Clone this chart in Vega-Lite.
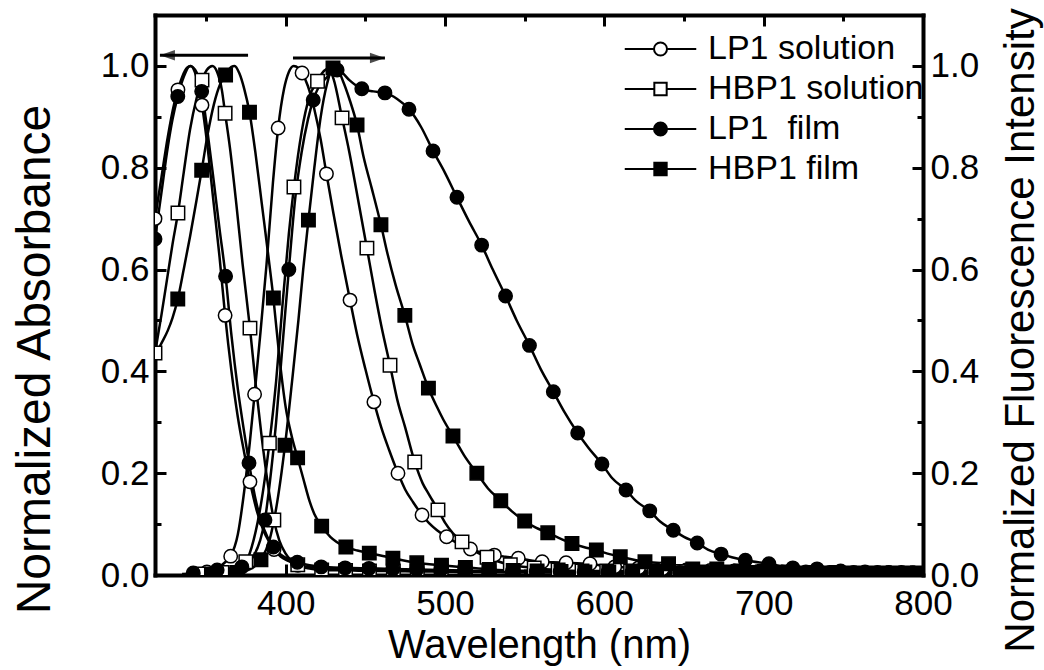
{
  "$schema": "https://vega.github.io/schema/vega-lite/v6.json",
  "width": 768,
  "height": 560,
  "autosize": {"type": "none"},
  "padding": {"left": 155, "top": 15, "right": 121, "bottom": 95},
  "background": "white",
  "config": {
    "view": {"stroke": null},
    "font": "Liberation Sans",
    "axis": {
      "grid": false,
      "domainColor": "black",
      "domainWidth": 4,
      "domainCap": "square",
      "tickColor": "black",
      "tickWidth": 3,
      "labelColor": "black",
      "labelFont": "Liberation Sans",
      "labelFontSize": 35,
      "labelOverlap": false,
      "labelFlush": false,
      "titleColor": "black",
      "titleFontWeight": "normal"
    },
    "legend": {
      "orient": "none",
      "legendX": 488.5,
      "legendY": 17,
      "padding": 0,
      "labelFont": "Liberation Sans",
      "labelFontSize": 34,
      "labelLimit": 400,
      "labelColor": "black",
      "labelOffset": 30.5,
      "rowPadding": 6,
      "symbolSize": 169,
      "symbolStrokeWidth": 2,
      "symbolStrokeColor": "black",
      "symbolOpacity": 1
    }
  },
  "datasets": {
    "keys": [
      {"s": "LP1 solution"}, {"s": "HBP1 solution"}, {"s": "LP1\u00a0 film"}, {"s": "HBP1 film"}
    ],
    "arrows": [
      {"dir": "L", "x": 376.4, "x2": 321.1, "y": 1.021},
      {"dir": "R", "x": 404.6, "x2": 462.3, "y": 1.0155}
    ],
    "spectra": [
      {"s": "LP1 solution", "b": "A", "x": 318, "y": 0.700, "m": 1},
      {"s": "LP1 solution", "b": "A", "x": 322, "y": 0.780},
      {"s": "LP1 solution", "b": "A", "x": 326, "y": 0.860},
      {"s": "LP1 solution", "b": "A", "x": 330, "y": 0.925},
      {"s": "LP1 solution", "b": "A", "x": 332.4, "y": 0.953, "m": 1},
      {"s": "LP1 solution", "b": "A", "x": 335, "y": 0.978},
      {"s": "LP1 solution", "b": "A", "x": 338, "y": 0.996},
      {"s": "LP1 solution", "b": "A", "x": 340.5, "y": 1.0},
      {"s": "LP1 solution", "b": "A", "x": 343, "y": 0.988},
      {"s": "LP1 solution", "b": "A", "x": 347.5, "y": 0.923, "m": 1},
      {"s": "LP1 solution", "b": "A", "x": 351, "y": 0.840},
      {"s": "LP1 solution", "b": "A", "x": 355, "y": 0.725},
      {"s": "LP1 solution", "b": "A", "x": 358.5, "y": 0.625},
      {"s": "LP1 solution", "b": "A", "x": 362, "y": 0.510, "m": 1},
      {"s": "LP1 solution", "b": "A", "x": 366, "y": 0.400},
      {"s": "LP1 solution", "b": "A", "x": 370, "y": 0.310},
      {"s": "LP1 solution", "b": "A", "x": 374, "y": 0.240},
      {"s": "LP1 solution", "b": "A", "x": 377.6, "y": 0.183, "m": 1},
      {"s": "LP1 solution", "b": "A", "x": 382, "y": 0.125},
      {"s": "LP1 solution", "b": "A", "x": 386, "y": 0.088},
      {"s": "LP1 solution", "b": "A", "x": 389.5, "y": 0.066},
      {"s": "LP1 solution", "b": "A", "x": 392.7, "y": 0.050, "m": 1},
      {"s": "LP1 solution", "b": "A", "x": 397, "y": 0.036},
      {"s": "LP1 solution", "b": "A", "x": 402, "y": 0.027},
      {"s": "LP1 solution", "b": "A", "x": 407.7, "y": 0.019, "m": 1},
      {"s": "LP1 solution", "b": "A", "x": 415, "y": 0.015},
      {"s": "LP1 solution", "b": "A", "x": 422.8, "y": 0.013, "m": 1},
      {"s": "LP1 solution", "b": "A", "x": 437.8, "y": 0.012, "m": 1},
      {"s": "LP1 solution", "b": "A", "x": 452.8, "y": 0.011, "m": 1},
      {"s": "LP1 solution", "b": "A", "x": 467.8, "y": 0.010, "m": 1},
      {"s": "LP1 solution", "b": "A", "x": 482.8, "y": 0.009, "m": 1},
      {"s": "LP1 solution", "b": "A", "x": 497.8, "y": 0.008, "m": 1},
      {"s": "LP1 solution", "b": "A", "x": 512.8, "y": 0.008, "m": 1},
      {"s": "LP1 solution", "b": "A", "x": 527.8, "y": 0.007, "m": 1},
      {"s": "LP1 solution", "b": "A", "x": 542.8, "y": 0.007, "m": 1},
      {"s": "LP1 solution", "b": "A", "x": 557.8, "y": 0.006, "m": 1},
      {"s": "LP1 solution", "b": "A", "x": 572.8, "y": 0.006, "m": 1},
      {"s": "LP1 solution", "b": "A", "x": 587.8, "y": 0.005, "m": 1},
      {"s": "LP1 solution", "b": "A", "x": 602.8, "y": 0.005, "m": 1},
      {"s": "LP1 solution", "b": "A", "x": 617.8, "y": 0.005, "m": 1},
      {"s": "LP1 solution", "b": "A", "x": 632.8, "y": 0.004, "m": 1},
      {"s": "LP1 solution", "b": "A", "x": 647.8, "y": 0.004, "m": 1},
      {"s": "LP1 solution", "b": "A", "x": 662.8, "y": 0.004, "m": 1},
      {"s": "LP1 solution", "b": "A", "x": 677.8, "y": 0.004, "m": 1},
      {"s": "LP1 solution", "b": "A", "x": 692.8, "y": 0.003, "m": 1},
      {"s": "LP1 solution", "b": "A", "x": 707.8, "y": 0.003, "m": 1},
      {"s": "LP1 solution", "b": "A", "x": 722.8, "y": 0.003, "m": 1},
      {"s": "LP1 solution", "b": "A", "x": 737.8, "y": 0.003, "m": 1},
      {"s": "LP1 solution", "b": "A", "x": 752.8, "y": 0.003, "m": 1},
      {"s": "LP1 solution", "b": "A", "x": 767.8, "y": 0.003, "m": 1},
      {"s": "LP1 solution", "b": "A", "x": 782.8, "y": 0.003, "m": 1},
      {"s": "LP1 solution", "b": "A", "x": 797.8, "y": 0.003, "m": 1},

      {"s": "LP1 solution", "b": "E", "x": 335, "y": 0.002},
      {"s": "LP1 solution", "b": "E", "x": 350.6, "y": 0.006, "m": 1},
      {"s": "LP1 solution", "b": "E", "x": 358, "y": 0.015},
      {"s": "LP1 solution", "b": "E", "x": 362, "y": 0.025},
      {"s": "LP1 solution", "b": "E", "x": 365.5, "y": 0.037, "m": 1},
      {"s": "LP1 solution", "b": "E", "x": 370, "y": 0.080},
      {"s": "LP1 solution", "b": "E", "x": 374, "y": 0.165},
      {"s": "LP1 solution", "b": "E", "x": 377.5, "y": 0.260},
      {"s": "LP1 solution", "b": "E", "x": 380.5, "y": 0.355, "m": 1},
      {"s": "LP1 solution", "b": "E", "x": 384, "y": 0.470},
      {"s": "LP1 solution", "b": "E", "x": 388, "y": 0.610},
      {"s": "LP1 solution", "b": "E", "x": 392, "y": 0.770},
      {"s": "LP1 solution", "b": "E", "x": 395.3, "y": 0.878, "m": 1},
      {"s": "LP1 solution", "b": "E", "x": 399, "y": 0.955},
      {"s": "LP1 solution", "b": "E", "x": 402, "y": 0.988},
      {"s": "LP1 solution", "b": "E", "x": 405, "y": 1.0},
      {"s": "LP1 solution", "b": "E", "x": 408, "y": 0.996},
      {"s": "LP1 solution", "b": "E", "x": 410.3, "y": 0.986, "m": 1},
      {"s": "LP1 solution", "b": "E", "x": 414, "y": 0.960},
      {"s": "LP1 solution", "b": "E", "x": 418, "y": 0.915},
      {"s": "LP1 solution", "b": "E", "x": 422, "y": 0.855},
      {"s": "LP1 solution", "b": "E", "x": 425.6, "y": 0.788, "m": 1},
      {"s": "LP1 solution", "b": "E", "x": 430, "y": 0.710},
      {"s": "LP1 solution", "b": "E", "x": 435, "y": 0.625},
      {"s": "LP1 solution", "b": "E", "x": 440.4, "y": 0.540, "m": 1},
      {"s": "LP1 solution", "b": "E", "x": 445, "y": 0.470},
      {"s": "LP1 solution", "b": "E", "x": 450, "y": 0.405},
      {"s": "LP1 solution", "b": "E", "x": 455.4, "y": 0.340, "m": 1},
      {"s": "LP1 solution", "b": "E", "x": 460, "y": 0.290},
      {"s": "LP1 solution", "b": "E", "x": 465, "y": 0.245},
      {"s": "LP1 solution", "b": "E", "x": 470.5, "y": 0.200, "m": 1},
      {"s": "LP1 solution", "b": "E", "x": 475, "y": 0.168},
      {"s": "LP1 solution", "b": "E", "x": 480, "y": 0.143},
      {"s": "LP1 solution", "b": "E", "x": 485.6, "y": 0.118, "m": 1},
      {"s": "LP1 solution", "b": "E", "x": 490, "y": 0.102},
      {"s": "LP1 solution", "b": "E", "x": 495, "y": 0.088},
      {"s": "LP1 solution", "b": "E", "x": 501, "y": 0.075, "m": 1},
      {"s": "LP1 solution", "b": "E", "x": 508, "y": 0.062},
      {"s": "LP1 solution", "b": "E", "x": 516, "y": 0.051, "m": 1},
      {"s": "LP1 solution", "b": "E", "x": 523, "y": 0.044},
      {"s": "LP1 solution", "b": "E", "x": 531, "y": 0.039, "m": 1},
      {"s": "LP1 solution", "b": "E", "x": 538, "y": 0.036},
      {"s": "LP1 solution", "b": "E", "x": 546, "y": 0.033, "m": 1},
      {"s": "LP1 solution", "b": "E", "x": 553, "y": 0.029},
      {"s": "LP1 solution", "b": "E", "x": 561, "y": 0.026, "m": 1},
      {"s": "LP1 solution", "b": "E", "x": 568, "y": 0.025},
      {"s": "LP1 solution", "b": "E", "x": 576, "y": 0.024, "m": 1},
      {"s": "LP1 solution", "b": "E", "x": 583, "y": 0.023},
      {"s": "LP1 solution", "b": "E", "x": 591, "y": 0.022, "m": 1},
      {"s": "LP1 solution", "b": "E", "x": 598, "y": 0.019},
      {"s": "LP1 solution", "b": "E", "x": 606.5, "y": 0.016, "m": 1},
      {"s": "LP1 solution", "b": "E", "x": 621.5, "y": 0.014, "m": 1},
      {"s": "LP1 solution", "b": "E", "x": 636.5, "y": 0.012, "m": 1},
      {"s": "LP1 solution", "b": "E", "x": 651.5, "y": 0.010, "m": 1},
      {"s": "LP1 solution", "b": "E", "x": 666.5, "y": 0.009, "m": 1},
      {"s": "LP1 solution", "b": "E", "x": 681.5, "y": 0.008, "m": 1},
      {"s": "LP1 solution", "b": "E", "x": 696.5, "y": 0.007, "m": 1},
      {"s": "LP1 solution", "b": "E", "x": 711.5, "y": 0.006, "m": 1},
      {"s": "LP1 solution", "b": "E", "x": 726.5, "y": 0.006, "m": 1},
      {"s": "LP1 solution", "b": "E", "x": 741.5, "y": 0.005, "m": 1},
      {"s": "LP1 solution", "b": "E", "x": 756.5, "y": 0.005, "m": 1},
      {"s": "LP1 solution", "b": "E", "x": 771.5, "y": 0.005, "m": 1},
      {"s": "LP1 solution", "b": "E", "x": 786.5, "y": 0.005, "m": 1},
      {"s": "LP1 solution", "b": "E", "x": 800, "y": 0.005},

      {"s": "HBP1 solution", "b": "A", "x": 318, "y": 0.436, "m": 1},
      {"s": "HBP1 solution", "b": "A", "x": 322, "y": 0.510},
      {"s": "HBP1 solution", "b": "A", "x": 326, "y": 0.590},
      {"s": "HBP1 solution", "b": "A", "x": 329, "y": 0.650},
      {"s": "HBP1 solution", "b": "A", "x": 332.4, "y": 0.711, "m": 1},
      {"s": "HBP1 solution", "b": "A", "x": 336, "y": 0.790},
      {"s": "HBP1 solution", "b": "A", "x": 340, "y": 0.875},
      {"s": "HBP1 solution", "b": "A", "x": 344, "y": 0.935},
      {"s": "HBP1 solution", "b": "A", "x": 347.5, "y": 0.972, "m": 1},
      {"s": "HBP1 solution", "b": "A", "x": 350.5, "y": 0.992},
      {"s": "HBP1 solution", "b": "A", "x": 354, "y": 1.0},
      {"s": "HBP1 solution", "b": "A", "x": 357, "y": 0.988},
      {"s": "HBP1 solution", "b": "A", "x": 360, "y": 0.952},
      {"s": "HBP1 solution", "b": "A", "x": 362, "y": 0.907, "m": 1},
      {"s": "HBP1 solution", "b": "A", "x": 365, "y": 0.840},
      {"s": "HBP1 solution", "b": "A", "x": 369, "y": 0.730},
      {"s": "HBP1 solution", "b": "A", "x": 373, "y": 0.610},
      {"s": "HBP1 solution", "b": "A", "x": 377.6, "y": 0.485, "m": 1},
      {"s": "HBP1 solution", "b": "A", "x": 381, "y": 0.380},
      {"s": "HBP1 solution", "b": "A", "x": 385, "y": 0.270},
      {"s": "HBP1 solution", "b": "A", "x": 389, "y": 0.175},
      {"s": "HBP1 solution", "b": "A", "x": 392.6, "y": 0.108, "m": 1},
      {"s": "HBP1 solution", "b": "A", "x": 396, "y": 0.068},
      {"s": "HBP1 solution", "b": "A", "x": 400, "y": 0.042},
      {"s": "HBP1 solution", "b": "A", "x": 407.6, "y": 0.020, "m": 1},
      {"s": "HBP1 solution", "b": "A", "x": 414, "y": 0.013},
      {"s": "HBP1 solution", "b": "A", "x": 422.6, "y": 0.010, "m": 1},
      {"s": "HBP1 solution", "b": "A", "x": 437.6, "y": 0.009, "m": 1},
      {"s": "HBP1 solution", "b": "A", "x": 452.6, "y": 0.008, "m": 1},
      {"s": "HBP1 solution", "b": "A", "x": 467.6, "y": 0.008, "m": 1},
      {"s": "HBP1 solution", "b": "A", "x": 482.6, "y": 0.007, "m": 1},
      {"s": "HBP1 solution", "b": "A", "x": 497.6, "y": 0.007, "m": 1},
      {"s": "HBP1 solution", "b": "A", "x": 512.6, "y": 0.006, "m": 1},
      {"s": "HBP1 solution", "b": "A", "x": 527.6, "y": 0.006, "m": 1},
      {"s": "HBP1 solution", "b": "A", "x": 542.6, "y": 0.005, "m": 1},
      {"s": "HBP1 solution", "b": "A", "x": 557.6, "y": 0.005, "m": 1},
      {"s": "HBP1 solution", "b": "A", "x": 572.6, "y": 0.005, "m": 1},
      {"s": "HBP1 solution", "b": "A", "x": 587.6, "y": 0.004, "m": 1},
      {"s": "HBP1 solution", "b": "A", "x": 602.6, "y": 0.004, "m": 1},
      {"s": "HBP1 solution", "b": "A", "x": 617.6, "y": 0.004, "m": 1},
      {"s": "HBP1 solution", "b": "A", "x": 632.6, "y": 0.004, "m": 1},
      {"s": "HBP1 solution", "b": "A", "x": 647.6, "y": 0.003, "m": 1},
      {"s": "HBP1 solution", "b": "A", "x": 662.6, "y": 0.003, "m": 1},
      {"s": "HBP1 solution", "b": "A", "x": 677.6, "y": 0.003, "m": 1},
      {"s": "HBP1 solution", "b": "A", "x": 692.6, "y": 0.003, "m": 1},
      {"s": "HBP1 solution", "b": "A", "x": 707.6, "y": 0.003, "m": 1},
      {"s": "HBP1 solution", "b": "A", "x": 722.6, "y": 0.002, "m": 1},
      {"s": "HBP1 solution", "b": "A", "x": 737.6, "y": 0.002, "m": 1},
      {"s": "HBP1 solution", "b": "A", "x": 752.6, "y": 0.002, "m": 1},
      {"s": "HBP1 solution", "b": "A", "x": 767.6, "y": 0.002, "m": 1},
      {"s": "HBP1 solution", "b": "A", "x": 782.6, "y": 0.002, "m": 1},
      {"s": "HBP1 solution", "b": "A", "x": 797.6, "y": 0.002, "m": 1},

      {"s": "HBP1 solution", "b": "E", "x": 345, "y": 0.002, "m": 1},
      {"s": "HBP1 solution", "b": "E", "x": 360, "y": 0.005, "m": 1},
      {"s": "HBP1 solution", "b": "E", "x": 368, "y": 0.012},
      {"s": "HBP1 solution", "b": "E", "x": 375, "y": 0.026, "m": 1},
      {"s": "HBP1 solution", "b": "E", "x": 380, "y": 0.070},
      {"s": "HBP1 solution", "b": "E", "x": 384, "y": 0.130},
      {"s": "HBP1 solution", "b": "E", "x": 389.8, "y": 0.259, "m": 1},
      {"s": "HBP1 solution", "b": "E", "x": 394, "y": 0.380},
      {"s": "HBP1 solution", "b": "E", "x": 398, "y": 0.530},
      {"s": "HBP1 solution", "b": "E", "x": 402, "y": 0.670},
      {"s": "HBP1 solution", "b": "E", "x": 405.2, "y": 0.762, "m": 1},
      {"s": "HBP1 solution", "b": "E", "x": 410, "y": 0.870},
      {"s": "HBP1 solution", "b": "E", "x": 415, "y": 0.940},
      {"s": "HBP1 solution", "b": "E", "x": 420, "y": 0.970, "m": 1},
      {"s": "HBP1 solution", "b": "E", "x": 424, "y": 0.990},
      {"s": "HBP1 solution", "b": "E", "x": 427, "y": 0.995},
      {"s": "HBP1 solution", "b": "E", "x": 430, "y": 0.975},
      {"s": "HBP1 solution", "b": "E", "x": 435.4, "y": 0.898, "m": 1},
      {"s": "HBP1 solution", "b": "E", "x": 440, "y": 0.830},
      {"s": "HBP1 solution", "b": "E", "x": 445, "y": 0.745},
      {"s": "HBP1 solution", "b": "E", "x": 451, "y": 0.642, "m": 1},
      {"s": "HBP1 solution", "b": "E", "x": 456, "y": 0.555},
      {"s": "HBP1 solution", "b": "E", "x": 460, "y": 0.490},
      {"s": "HBP1 solution", "b": "E", "x": 465.5, "y": 0.412, "m": 1},
      {"s": "HBP1 solution", "b": "E", "x": 470, "y": 0.345},
      {"s": "HBP1 solution", "b": "E", "x": 475, "y": 0.290},
      {"s": "HBP1 solution", "b": "E", "x": 481, "y": 0.222, "m": 1},
      {"s": "HBP1 solution", "b": "E", "x": 486, "y": 0.180},
      {"s": "HBP1 solution", "b": "E", "x": 490, "y": 0.158},
      {"s": "HBP1 solution", "b": "E", "x": 495.6, "y": 0.128, "m": 1},
      {"s": "HBP1 solution", "b": "E", "x": 500, "y": 0.103},
      {"s": "HBP1 solution", "b": "E", "x": 505, "y": 0.082},
      {"s": "HBP1 solution", "b": "E", "x": 510.7, "y": 0.065, "m": 1},
      {"s": "HBP1 solution", "b": "E", "x": 518, "y": 0.048},
      {"s": "HBP1 solution", "b": "E", "x": 526.4, "y": 0.035, "m": 1},
      {"s": "HBP1 solution", "b": "E", "x": 533, "y": 0.027},
      {"s": "HBP1 solution", "b": "E", "x": 541, "y": 0.020, "m": 1},
      {"s": "HBP1 solution", "b": "E", "x": 556, "y": 0.014, "m": 1},
      {"s": "HBP1 solution", "b": "E", "x": 571, "y": 0.010, "m": 1},
      {"s": "HBP1 solution", "b": "E", "x": 586, "y": 0.008, "m": 1},
      {"s": "HBP1 solution", "b": "E", "x": 601.5, "y": 0.008, "m": 1},
      {"s": "HBP1 solution", "b": "E", "x": 616.5, "y": 0.008, "m": 1},
      {"s": "HBP1 solution", "b": "E", "x": 631.5, "y": 0.008, "m": 1},
      {"s": "HBP1 solution", "b": "E", "x": 646.5, "y": 0.007, "m": 1},
      {"s": "HBP1 solution", "b": "E", "x": 661.5, "y": 0.006, "m": 1},
      {"s": "HBP1 solution", "b": "E", "x": 676.5, "y": 0.006, "m": 1},
      {"s": "HBP1 solution", "b": "E", "x": 691.5, "y": 0.005, "m": 1},
      {"s": "HBP1 solution", "b": "E", "x": 706.5, "y": 0.005, "m": 1},
      {"s": "HBP1 solution", "b": "E", "x": 721.5, "y": 0.004, "m": 1},
      {"s": "HBP1 solution", "b": "E", "x": 736.5, "y": 0.004, "m": 1},
      {"s": "HBP1 solution", "b": "E", "x": 751.5, "y": 0.004, "m": 1},
      {"s": "HBP1 solution", "b": "E", "x": 766.5, "y": 0.004, "m": 1},
      {"s": "HBP1 solution", "b": "E", "x": 781.5, "y": 0.004, "m": 1},
      {"s": "HBP1 solution", "b": "E", "x": 796.5, "y": 0.004, "m": 1},

      {"s": "LP1\u00a0 film", "b": "A", "x": 318, "y": 0.660, "m": 1},
      {"s": "LP1\u00a0 film", "b": "A", "x": 322, "y": 0.750},
      {"s": "LP1\u00a0 film", "b": "A", "x": 326, "y": 0.840},
      {"s": "LP1\u00a0 film", "b": "A", "x": 329, "y": 0.895},
      {"s": "LP1\u00a0 film", "b": "A", "x": 332.3, "y": 0.940, "m": 1},
      {"s": "LP1\u00a0 film", "b": "A", "x": 336, "y": 0.978},
      {"s": "LP1\u00a0 film", "b": "A", "x": 340, "y": 1.0},
      {"s": "LP1\u00a0 film", "b": "A", "x": 344, "y": 0.988},
      {"s": "LP1\u00a0 film", "b": "A", "x": 347.3, "y": 0.950, "m": 1},
      {"s": "LP1\u00a0 film", "b": "A", "x": 351, "y": 0.870},
      {"s": "LP1\u00a0 film", "b": "A", "x": 355, "y": 0.770},
      {"s": "LP1\u00a0 film", "b": "A", "x": 358.5, "y": 0.680},
      {"s": "LP1\u00a0 film", "b": "A", "x": 362.3, "y": 0.587, "m": 1},
      {"s": "LP1\u00a0 film", "b": "A", "x": 366, "y": 0.470},
      {"s": "LP1\u00a0 film", "b": "A", "x": 370, "y": 0.365},
      {"s": "LP1\u00a0 film", "b": "A", "x": 373.5, "y": 0.290},
      {"s": "LP1\u00a0 film", "b": "A", "x": 377, "y": 0.220, "m": 1},
      {"s": "LP1\u00a0 film", "b": "A", "x": 381, "y": 0.150},
      {"s": "LP1\u00a0 film", "b": "A", "x": 385, "y": 0.103},
      {"s": "LP1\u00a0 film", "b": "A", "x": 388.5, "y": 0.075},
      {"s": "LP1\u00a0 film", "b": "A", "x": 392.3, "y": 0.055, "m": 1},
      {"s": "LP1\u00a0 film", "b": "A", "x": 397, "y": 0.040},
      {"s": "LP1\u00a0 film", "b": "A", "x": 402, "y": 0.031},
      {"s": "LP1\u00a0 film", "b": "A", "x": 407.3, "y": 0.025, "m": 1},
      {"s": "LP1\u00a0 film", "b": "A", "x": 415, "y": 0.019},
      {"s": "LP1\u00a0 film", "b": "A", "x": 422.3, "y": 0.016, "m": 1},
      {"s": "LP1\u00a0 film", "b": "A", "x": 437.3, "y": 0.014, "m": 1},
      {"s": "LP1\u00a0 film", "b": "A", "x": 452.3, "y": 0.013, "m": 1},
      {"s": "LP1\u00a0 film", "b": "A", "x": 467.3, "y": 0.012, "m": 1},
      {"s": "LP1\u00a0 film", "b": "A", "x": 482.3, "y": 0.011, "m": 1},
      {"s": "LP1\u00a0 film", "b": "A", "x": 497.3, "y": 0.010, "m": 1},
      {"s": "LP1\u00a0 film", "b": "A", "x": 512.3, "y": 0.009, "m": 1},
      {"s": "LP1\u00a0 film", "b": "A", "x": 527.3, "y": 0.008, "m": 1},
      {"s": "LP1\u00a0 film", "b": "A", "x": 542.3, "y": 0.008, "m": 1},
      {"s": "LP1\u00a0 film", "b": "A", "x": 557.3, "y": 0.007, "m": 1},
      {"s": "LP1\u00a0 film", "b": "A", "x": 572.3, "y": 0.007, "m": 1},
      {"s": "LP1\u00a0 film", "b": "A", "x": 587.3, "y": 0.006, "m": 1},
      {"s": "LP1\u00a0 film", "b": "A", "x": 602.3, "y": 0.006, "m": 1},
      {"s": "LP1\u00a0 film", "b": "A", "x": 617.3, "y": 0.005, "m": 1},
      {"s": "LP1\u00a0 film", "b": "A", "x": 632.3, "y": 0.005, "m": 1},
      {"s": "LP1\u00a0 film", "b": "A", "x": 647.3, "y": 0.005, "m": 1},
      {"s": "LP1\u00a0 film", "b": "A", "x": 662.3, "y": 0.004, "m": 1},
      {"s": "LP1\u00a0 film", "b": "A", "x": 677.3, "y": 0.004, "m": 1},
      {"s": "LP1\u00a0 film", "b": "A", "x": 692.3, "y": 0.004, "m": 1},
      {"s": "LP1\u00a0 film", "b": "A", "x": 707.3, "y": 0.004, "m": 1},
      {"s": "LP1\u00a0 film", "b": "A", "x": 722.3, "y": 0.003, "m": 1},
      {"s": "LP1\u00a0 film", "b": "A", "x": 737.3, "y": 0.003, "m": 1},
      {"s": "LP1\u00a0 film", "b": "A", "x": 752.3, "y": 0.003, "m": 1},
      {"s": "LP1\u00a0 film", "b": "A", "x": 767.3, "y": 0.003, "m": 1},
      {"s": "LP1\u00a0 film", "b": "A", "x": 782.3, "y": 0.003, "m": 1},
      {"s": "LP1\u00a0 film", "b": "A", "x": 797.3, "y": 0.003, "m": 1},

      {"s": "LP1\u00a0 film", "b": "E", "x": 342, "y": 0.004, "m": 1},
      {"s": "LP1\u00a0 film", "b": "E", "x": 357, "y": 0.010, "m": 1},
      {"s": "LP1\u00a0 film", "b": "E", "x": 365, "y": 0.013},
      {"s": "LP1\u00a0 film", "b": "E", "x": 372.5, "y": 0.016, "m": 1},
      {"s": "LP1\u00a0 film", "b": "E", "x": 377, "y": 0.025},
      {"s": "LP1\u00a0 film", "b": "E", "x": 380, "y": 0.038},
      {"s": "LP1\u00a0 film", "b": "E", "x": 384, "y": 0.068},
      {"s": "LP1\u00a0 film", "b": "E", "x": 387, "y": 0.108, "m": 1},
      {"s": "LP1\u00a0 film", "b": "E", "x": 390, "y": 0.180},
      {"s": "LP1\u00a0 film", "b": "E", "x": 394, "y": 0.300},
      {"s": "LP1\u00a0 film", "b": "E", "x": 398, "y": 0.450},
      {"s": "LP1\u00a0 film", "b": "E", "x": 402, "y": 0.600, "m": 1},
      {"s": "LP1\u00a0 film", "b": "E", "x": 406, "y": 0.740},
      {"s": "LP1\u00a0 film", "b": "E", "x": 410, "y": 0.830},
      {"s": "LP1\u00a0 film", "b": "E", "x": 414, "y": 0.895},
      {"s": "LP1\u00a0 film", "b": "E", "x": 417.3, "y": 0.933, "m": 1},
      {"s": "LP1\u00a0 film", "b": "E", "x": 421, "y": 0.960},
      {"s": "LP1\u00a0 film", "b": "E", "x": 426, "y": 0.978},
      {"s": "LP1\u00a0 film", "b": "E", "x": 429, "y": 0.988},
      {"s": "LP1\u00a0 film", "b": "E", "x": 432.3, "y": 0.992, "m": 1},
      {"s": "LP1\u00a0 film", "b": "E", "x": 435, "y": 0.988},
      {"s": "LP1\u00a0 film", "b": "E", "x": 440, "y": 0.972},
      {"s": "LP1\u00a0 film", "b": "E", "x": 447.8, "y": 0.955, "m": 1},
      {"s": "LP1\u00a0 film", "b": "E", "x": 455, "y": 0.950},
      {"s": "LP1\u00a0 film", "b": "E", "x": 462.3, "y": 0.947, "m": 1},
      {"s": "LP1\u00a0 film", "b": "E", "x": 470, "y": 0.935},
      {"s": "LP1\u00a0 film", "b": "E", "x": 477.4, "y": 0.915, "m": 1},
      {"s": "LP1\u00a0 film", "b": "E", "x": 485, "y": 0.880},
      {"s": "LP1\u00a0 film", "b": "E", "x": 492.5, "y": 0.833, "m": 1},
      {"s": "LP1\u00a0 film", "b": "E", "x": 500, "y": 0.790},
      {"s": "LP1\u00a0 film", "b": "E", "x": 507.5, "y": 0.742, "m": 1},
      {"s": "LP1\u00a0 film", "b": "E", "x": 515, "y": 0.695},
      {"s": "LP1\u00a0 film", "b": "E", "x": 523, "y": 0.648, "m": 1},
      {"s": "LP1\u00a0 film", "b": "E", "x": 530, "y": 0.600},
      {"s": "LP1\u00a0 film", "b": "E", "x": 538, "y": 0.548, "m": 1},
      {"s": "LP1\u00a0 film", "b": "E", "x": 545, "y": 0.500},
      {"s": "LP1\u00a0 film", "b": "E", "x": 553, "y": 0.451, "m": 1},
      {"s": "LP1\u00a0 film", "b": "E", "x": 560, "y": 0.405},
      {"s": "LP1\u00a0 film", "b": "E", "x": 568, "y": 0.360, "m": 1},
      {"s": "LP1\u00a0 film", "b": "E", "x": 575, "y": 0.320},
      {"s": "LP1\u00a0 film", "b": "E", "x": 583.3, "y": 0.279, "m": 1},
      {"s": "LP1\u00a0 film", "b": "E", "x": 590, "y": 0.250},
      {"s": "LP1\u00a0 film", "b": "E", "x": 598.5, "y": 0.218, "m": 1},
      {"s": "LP1\u00a0 film", "b": "E", "x": 605, "y": 0.190},
      {"s": "LP1\u00a0 film", "b": "E", "x": 613.6, "y": 0.167, "m": 1},
      {"s": "LP1\u00a0 film", "b": "E", "x": 620, "y": 0.145},
      {"s": "LP1\u00a0 film", "b": "E", "x": 628.5, "y": 0.126, "m": 1},
      {"s": "LP1\u00a0 film", "b": "E", "x": 635, "y": 0.105},
      {"s": "LP1\u00a0 film", "b": "E", "x": 643.3, "y": 0.088, "m": 1},
      {"s": "LP1\u00a0 film", "b": "E", "x": 650, "y": 0.075},
      {"s": "LP1\u00a0 film", "b": "E", "x": 658.3, "y": 0.063, "m": 1},
      {"s": "LP1\u00a0 film", "b": "E", "x": 665, "y": 0.050},
      {"s": "LP1\u00a0 film", "b": "E", "x": 673.3, "y": 0.041, "m": 1},
      {"s": "LP1\u00a0 film", "b": "E", "x": 680, "y": 0.035},
      {"s": "LP1\u00a0 film", "b": "E", "x": 688.5, "y": 0.029, "m": 1},
      {"s": "LP1\u00a0 film", "b": "E", "x": 703.3, "y": 0.022, "m": 1},
      {"s": "LP1\u00a0 film", "b": "E", "x": 718.3, "y": 0.014, "m": 1},
      {"s": "LP1\u00a0 film", "b": "E", "x": 733.5, "y": 0.012, "m": 1},
      {"s": "LP1\u00a0 film", "b": "E", "x": 748.3, "y": 0.008, "m": 1},
      {"s": "LP1\u00a0 film", "b": "E", "x": 763.6, "y": 0.006, "m": 1},
      {"s": "LP1\u00a0 film", "b": "E", "x": 778.5, "y": 0.005, "m": 1},
      {"s": "LP1\u00a0 film", "b": "E", "x": 793.6, "y": 0.004, "m": 1},
      {"s": "LP1\u00a0 film", "b": "E", "x": 800, "y": 0.004},

      {"s": "HBP1 film", "b": "A", "x": 318, "y": 0.430},
      {"s": "HBP1 film", "b": "A", "x": 322, "y": 0.455},
      {"s": "HBP1 film", "b": "A", "x": 326, "y": 0.480},
      {"s": "HBP1 film", "b": "A", "x": 329, "y": 0.505},
      {"s": "HBP1 film", "b": "A", "x": 332.3, "y": 0.542, "m": 1},
      {"s": "HBP1 film", "b": "A", "x": 336, "y": 0.600},
      {"s": "HBP1 film", "b": "A", "x": 340, "y": 0.665},
      {"s": "HBP1 film", "b": "A", "x": 344, "y": 0.735},
      {"s": "HBP1 film", "b": "A", "x": 347.3, "y": 0.795, "m": 1},
      {"s": "HBP1 film", "b": "A", "x": 351, "y": 0.865},
      {"s": "HBP1 film", "b": "A", "x": 355, "y": 0.925},
      {"s": "HBP1 film", "b": "A", "x": 359, "y": 0.965},
      {"s": "HBP1 film", "b": "A", "x": 362.3, "y": 0.982, "m": 1},
      {"s": "HBP1 film", "b": "A", "x": 366, "y": 0.998},
      {"s": "HBP1 film", "b": "A", "x": 368, "y": 1.0},
      {"s": "HBP1 film", "b": "A", "x": 371, "y": 0.985},
      {"s": "HBP1 film", "b": "A", "x": 374, "y": 0.955},
      {"s": "HBP1 film", "b": "A", "x": 377.3, "y": 0.909, "m": 1},
      {"s": "HBP1 film", "b": "A", "x": 381, "y": 0.830},
      {"s": "HBP1 film", "b": "A", "x": 385, "y": 0.730},
      {"s": "HBP1 film", "b": "A", "x": 389, "y": 0.630},
      {"s": "HBP1 film", "b": "A", "x": 392.3, "y": 0.544, "m": 1},
      {"s": "HBP1 film", "b": "A", "x": 396, "y": 0.430},
      {"s": "HBP1 film", "b": "A", "x": 400, "y": 0.330},
      {"s": "HBP1 film", "b": "A", "x": 404, "y": 0.270},
      {"s": "HBP1 film", "b": "A", "x": 407.5, "y": 0.230, "m": 1},
      {"s": "HBP1 film", "b": "A", "x": 411, "y": 0.190},
      {"s": "HBP1 film", "b": "A", "x": 415, "y": 0.145},
      {"s": "HBP1 film", "b": "A", "x": 418, "y": 0.120},
      {"s": "HBP1 film", "b": "A", "x": 422.6, "y": 0.096, "m": 1},
      {"s": "HBP1 film", "b": "A", "x": 428, "y": 0.075},
      {"s": "HBP1 film", "b": "A", "x": 432, "y": 0.065},
      {"s": "HBP1 film", "b": "A", "x": 437.8, "y": 0.055, "m": 1},
      {"s": "HBP1 film", "b": "A", "x": 445, "y": 0.048},
      {"s": "HBP1 film", "b": "A", "x": 452.5, "y": 0.043, "m": 1},
      {"s": "HBP1 film", "b": "A", "x": 467.3, "y": 0.033, "m": 1},
      {"s": "HBP1 film", "b": "A", "x": 482.3, "y": 0.024, "m": 1},
      {"s": "HBP1 film", "b": "A", "x": 497.8, "y": 0.019, "m": 1},
      {"s": "HBP1 film", "b": "A", "x": 512.8, "y": 0.015, "m": 1},
      {"s": "HBP1 film", "b": "A", "x": 527.8, "y": 0.011, "m": 1},
      {"s": "HBP1 film", "b": "A", "x": 542.8, "y": 0.009, "m": 1},
      {"s": "HBP1 film", "b": "A", "x": 557.8, "y": 0.008, "m": 1},
      {"s": "HBP1 film", "b": "A", "x": 572.8, "y": 0.007, "m": 1},
      {"s": "HBP1 film", "b": "A", "x": 587.8, "y": 0.006, "m": 1},
      {"s": "HBP1 film", "b": "A", "x": 602.8, "y": 0.006, "m": 1},
      {"s": "HBP1 film", "b": "A", "x": 617.8, "y": 0.005, "m": 1},
      {"s": "HBP1 film", "b": "A", "x": 632.8, "y": 0.005, "m": 1},
      {"s": "HBP1 film", "b": "A", "x": 647.8, "y": 0.004, "m": 1},
      {"s": "HBP1 film", "b": "A", "x": 662.8, "y": 0.004, "m": 1},
      {"s": "HBP1 film", "b": "A", "x": 677.8, "y": 0.004, "m": 1},
      {"s": "HBP1 film", "b": "A", "x": 692.8, "y": 0.004, "m": 1},
      {"s": "HBP1 film", "b": "A", "x": 707.8, "y": 0.003, "m": 1},
      {"s": "HBP1 film", "b": "A", "x": 722.8, "y": 0.003, "m": 1},
      {"s": "HBP1 film", "b": "A", "x": 737.8, "y": 0.003, "m": 1},
      {"s": "HBP1 film", "b": "A", "x": 752.8, "y": 0.003, "m": 1},
      {"s": "HBP1 film", "b": "A", "x": 767.8, "y": 0.003, "m": 1},
      {"s": "HBP1 film", "b": "A", "x": 782.8, "y": 0.003, "m": 1},
      {"s": "HBP1 film", "b": "A", "x": 797.8, "y": 0.003, "m": 1},

      {"s": "HBP1 film", "b": "E", "x": 354, "y": 0.002, "m": 1},
      {"s": "HBP1 film", "b": "E", "x": 369.3, "y": 0.005, "m": 1},
      {"s": "HBP1 film", "b": "E", "x": 378, "y": 0.012},
      {"s": "HBP1 film", "b": "E", "x": 384.5, "y": 0.030, "m": 1},
      {"s": "HBP1 film", "b": "E", "x": 390, "y": 0.070},
      {"s": "HBP1 film", "b": "E", "x": 394, "y": 0.130},
      {"s": "HBP1 film", "b": "E", "x": 399.6, "y": 0.255, "m": 1},
      {"s": "HBP1 film", "b": "E", "x": 404, "y": 0.380},
      {"s": "HBP1 film", "b": "E", "x": 408, "y": 0.500},
      {"s": "HBP1 film", "b": "E", "x": 411, "y": 0.600},
      {"s": "HBP1 film", "b": "E", "x": 414.3, "y": 0.697, "m": 1},
      {"s": "HBP1 film", "b": "E", "x": 418, "y": 0.800},
      {"s": "HBP1 film", "b": "E", "x": 422, "y": 0.900},
      {"s": "HBP1 film", "b": "E", "x": 426, "y": 0.965},
      {"s": "HBP1 film", "b": "E", "x": 429.7, "y": 0.996, "m": 1},
      {"s": "HBP1 film", "b": "E", "x": 432, "y": 0.995},
      {"s": "HBP1 film", "b": "E", "x": 436, "y": 0.970},
      {"s": "HBP1 film", "b": "E", "x": 440, "y": 0.935},
      {"s": "HBP1 film", "b": "E", "x": 444.8, "y": 0.884, "m": 1},
      {"s": "HBP1 film", "b": "E", "x": 449, "y": 0.820},
      {"s": "HBP1 film", "b": "E", "x": 454, "y": 0.760},
      {"s": "HBP1 film", "b": "E", "x": 459.8, "y": 0.688, "m": 1},
      {"s": "HBP1 film", "b": "E", "x": 464, "y": 0.630},
      {"s": "HBP1 film", "b": "E", "x": 469, "y": 0.570},
      {"s": "HBP1 film", "b": "E", "x": 474.8, "y": 0.510, "m": 1},
      {"s": "HBP1 film", "b": "E", "x": 480, "y": 0.450},
      {"s": "HBP1 film", "b": "E", "x": 484, "y": 0.415},
      {"s": "HBP1 film", "b": "E", "x": 489.6, "y": 0.367, "m": 1},
      {"s": "HBP1 film", "b": "E", "x": 495, "y": 0.330},
      {"s": "HBP1 film", "b": "E", "x": 499, "y": 0.305},
      {"s": "HBP1 film", "b": "E", "x": 505, "y": 0.273, "m": 1},
      {"s": "HBP1 film", "b": "E", "x": 512, "y": 0.235},
      {"s": "HBP1 film", "b": "E", "x": 520, "y": 0.200, "m": 1},
      {"s": "HBP1 film", "b": "E", "x": 527, "y": 0.170},
      {"s": "HBP1 film", "b": "E", "x": 535, "y": 0.146, "m": 1},
      {"s": "HBP1 film", "b": "E", "x": 542, "y": 0.125},
      {"s": "HBP1 film", "b": "E", "x": 550, "y": 0.106, "m": 1},
      {"s": "HBP1 film", "b": "E", "x": 557, "y": 0.093},
      {"s": "HBP1 film", "b": "E", "x": 564.5, "y": 0.083, "m": 1},
      {"s": "HBP1 film", "b": "E", "x": 572, "y": 0.072},
      {"s": "HBP1 film", "b": "E", "x": 579.7, "y": 0.062, "m": 1},
      {"s": "HBP1 film", "b": "E", "x": 587, "y": 0.055},
      {"s": "HBP1 film", "b": "E", "x": 595, "y": 0.049, "m": 1},
      {"s": "HBP1 film", "b": "E", "x": 602, "y": 0.042},
      {"s": "HBP1 film", "b": "E", "x": 610, "y": 0.036, "m": 1},
      {"s": "HBP1 film", "b": "E", "x": 625.5, "y": 0.026, "m": 1},
      {"s": "HBP1 film", "b": "E", "x": 640.3, "y": 0.022, "m": 1},
      {"s": "HBP1 film", "b": "E", "x": 655.5, "y": 0.012, "m": 1},
      {"s": "HBP1 film", "b": "E", "x": 670.6, "y": 0.012, "m": 1},
      {"s": "HBP1 film", "b": "E", "x": 685.5, "y": 0.008, "m": 1},
      {"s": "HBP1 film", "b": "E", "x": 700.5, "y": 0.007, "m": 1},
      {"s": "HBP1 film", "b": "E", "x": 715.5, "y": 0.006, "m": 1},
      {"s": "HBP1 film", "b": "E", "x": 730.5, "y": 0.005, "m": 1},
      {"s": "HBP1 film", "b": "E", "x": 745.5, "y": 0.005, "m": 1},
      {"s": "HBP1 film", "b": "E", "x": 760.5, "y": 0.004, "m": 1},
      {"s": "HBP1 film", "b": "E", "x": 775.5, "y": 0.004, "m": 1},
      {"s": "HBP1 film", "b": "E", "x": 790.5, "y": 0.004, "m": 1},
      {"s": "HBP1 film", "b": "E", "x": 800, "y": 0.004}
    ]
  },
  "layer": [
    {
      "data": {"name": "spectra"},
      "mark": {"type": "line", "color": "black", "strokeWidth": 2.5, "interpolate": "monotone", "clip": true},
      "encoding": {
        "x": {
          "field": "x", "type": "quantitative",
          "scale": {"domain": [318, 800], "nice": false, "zero": false},
          "axis": {
            "orient": "bottom",
            "values": [350, 400, 450, 500, 550, 600, 650, 700, 750, 800],
            "labelExpr": "datum.value % 100 === 0 ? datum.label : ''",
            "tickSize": {"condition": {"test": "datum.value % 100 === 0", "value": -11}, "value": -6},
            "labelPadding": 22,
            "title": "Wavelength (nm)",
            "titleFont": "Liberation Sans",
            "titleFontSize": 40,
            "titleBaseline": "alphabetic",
            "titleY": 82
          }
        },
        "y": {
          "field": "y", "type": "quantitative",
          "scale": {"domain": [0, 1.1], "nice": false, "zero": true},
          "axis": {
            "orient": "left",
            "values": [0, 0.1, 0.2, 0.3, 0.4, 0.5, 0.6, 0.7, 0.8, 0.9, 1.0],
            "format": ".1f",
            "labelExpr": "round(datum.value * 10) % 2 === 0 ? datum.label : ''",
            "tickSize": {"condition": {"test": "round(datum.value * 10) % 2 === 0", "value": -11}, "value": -6},
            "labelPadding": 17,
            "title": "Normalized Absorbance",
            "titleFont": "Liberation Sans",
            "titleFontSize": 48,
            "titleAngle": 270,
            "titleBaseline": "alphabetic",
            "titleX": -106,
            "titleY": 344
          }
        },
        "detail": [{"field": "s"}, {"field": "b"}]
      }
    },
    {
      "data": {"name": "spectra"},
      "transform": [{"filter": "datum.m === 1"}],
      "mark": {"type": "point", "filled": true, "stroke": "black", "strokeWidth": 1.5, "size": 180, "opacity": 1, "clip": true},
      "encoding": {
        "x": {"field": "x", "type": "quantitative", "scale": {"domain": [318, 800], "nice": false, "zero": false}, "axis": null},
        "y": {"field": "y", "type": "quantitative", "scale": {"domain": [0, 1.1], "nice": false, "zero": true}, "axis": null},
        "shape": {
          "field": "s", "type": "nominal",
          "scale": {"domain": ["LP1 solution", "HBP1 solution", "LP1\u00a0 film", "HBP1 film"], "range": ["circle", "square", "circle", "square"]},
          "legend": null
        },
        "fill": {
          "field": "s", "type": "nominal",
          "scale": {"domain": ["LP1 solution", "HBP1 solution", "LP1\u00a0 film", "HBP1 film"], "range": ["white", "white", "black", "black"]},
          "legend": null
        }
      }
    },
    {
      "data": {"name": "keys"},
      "mark": {"type": "point", "filled": true, "strokeWidth": 2, "size": 169, "opacity": 0},
      "encoding": {
        "stroke": {"value": "black"},
        "shape": {
          "field": "s", "type": "nominal",
          "scale": {
            "domain": ["LP1 solution", "HBP1 solution", "LP1\u00a0 film", "HBP1 film"],
            "range": [
              "M-5.5,0L-1,0M1,0L5.5,0M1,0A1,1,0,1,1,-1,0A1,1,0,1,1,1,0Z",
              "M-5.5,0L-0.95,0M0.95,0L5.5,0M-0.95,-0.95L0.95,-0.95L0.95,0.95L-0.95,0.95Z",
              "M-5.5,0L-1,0M1,0L5.5,0M1,0A1,1,0,1,1,-1,0A1,1,0,1,1,1,0Z",
              "M-5.5,0L-0.95,0M0.95,0L5.5,0M-0.95,-0.95L0.95,-0.95L0.95,0.95L-0.95,0.95Z"
            ]
          },
          "legend": {
            "title": null,
            "symbolOpacity": 1,
            "encode": {"symbols": {"update": {"stroke": {"value": "black"}, "strokeWidth": {"value": 2}, "strokeOpacity": {"value": 1}, "opacity": {"value": 1}}}}
          }
        },
        "fill": {
          "field": "s", "type": "nominal",
          "scale": {"domain": ["LP1 solution", "HBP1 solution", "LP1\u00a0 film", "HBP1 film"], "range": ["white", "white", "black", "black"]},
          "legend": {
            "title": null,
            "symbolOpacity": 1,
            "encode": {"symbols": {"update": {"stroke": {"value": "black"}, "strokeWidth": {"value": 2}, "strokeOpacity": {"value": 1}, "opacity": {"value": 1}}}}
          }
        }
      }
    },
    {
      "data": {"name": "arrows"},
      "mark": {"type": "rule", "color": "black", "strokeWidth": 3},
      "encoding": {
        "x": {
          "field": "x", "type": "quantitative",
          "scale": {"domain": [318, 800], "nice": false, "zero": false},
          "axis": {
            "orient": "top",
            "values": [350, 400, 450, 500, 550, 600, 650, 700, 750, 800],
            "labels": false,
            "tickSize": {"condition": {"test": "datum.value % 100 === 0", "value": -11}, "value": -6},
            "title": null
          }
        },
        "x2": {"field": "x2"},
        "y": {
          "field": "y", "type": "quantitative",
          "scale": {"domain": [0, 1.1], "nice": false, "zero": true},
          "axis": {
            "orient": "right",
            "values": [0, 0.1, 0.2, 0.3, 0.4, 0.5, 0.6, 0.7, 0.8, 0.9, 1.0],
            "format": ".1f",
            "labelExpr": "round(datum.value * 10) % 2 === 0 ? datum.label : ''",
            "tickSize": {"condition": {"test": "round(datum.value * 10) % 2 === 0", "value": -11}, "value": -6},
            "labelPadding": 18,
            "title": "Normalized Fluorescence Intensity",
            "titleFont": "Liberation Sans",
            "titleFontSize": 42,
            "titleAngle": 270,
            "titleBaseline": "alphabetic",
            "titleX": 110,
            "titleY": 315
          }
        }
      }
    },
    {
      "data": {"name": "arrows"},
      "transform": [{"filter": "datum.dir === 'L'"}],
      "mark": {"type": "point", "shape": "M0,0L2,-0.7L2,0.7Z", "filled": true, "color": "black", "size": 225},
      "encoding": {
        "x": {"field": "x2", "type": "quantitative", "scale": {"domain": [318, 800], "nice": false, "zero": false}, "axis": null},
        "y": {"field": "y", "type": "quantitative", "scale": {"domain": [0, 1.1], "nice": false, "zero": true}, "axis": null}
      }
    },
    {
      "data": {"name": "arrows"},
      "transform": [{"filter": "datum.dir === 'R'"}],
      "mark": {"type": "point", "shape": "M0,0L-2,-0.7L-2,0.7Z", "filled": true, "color": "black", "size": 225},
      "encoding": {
        "x": {"field": "x2", "type": "quantitative", "scale": {"domain": [318, 800], "nice": false, "zero": false}, "axis": null},
        "y": {"field": "y", "type": "quantitative", "scale": {"domain": [0, 1.1], "nice": false, "zero": true}, "axis": null}
      }
    }
  ],
  "resolve": {
    "axis": {"x": "independent", "y": "independent"},
    "scale": {"shape": "independent", "fill": "independent"}
  }
}
